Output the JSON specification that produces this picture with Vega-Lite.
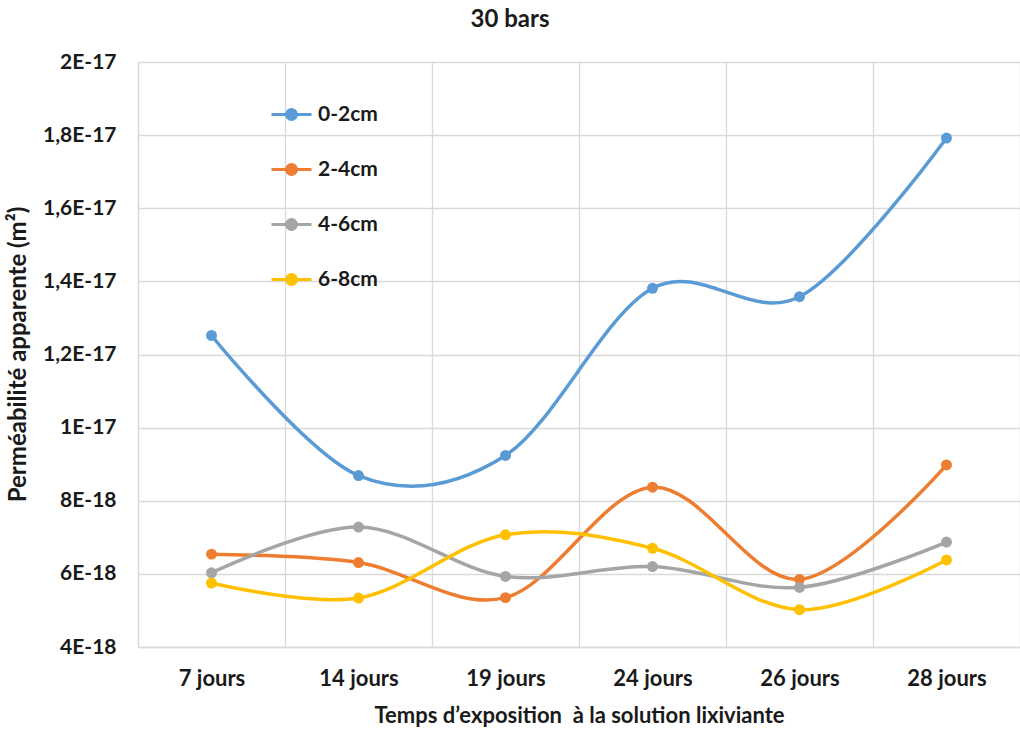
{
  "$schema": "https://vega.github.io/schema/vega-lite/v6.json",
  "autosize": {"type": "none"},
  "padding": {"left": 138, "top": 62, "right": 0, "bottom": 84},
  "width": 882,
  "height": 585,
  "background": "white",
  "title": {
    "text": "30 bars",
    "font": "Lato",
    "fontSize": 24,
    "fontWeight": "bold",
    "color": "#1a1a1a",
    "anchor": "middle",
    "frame": "group",
    "dx": -69,
    "offset": 19
  },
  "config": {
    "view": {"stroke": null},
    "font": "Lato"
  },
  "data": {
    "values": [
      {"temps": "7 jours", "profondeur": "0-2cm", "k": 1.252e-17},
      {"temps": "14 jours", "profondeur": "0-2cm", "k": 8.69e-18},
      {"temps": "19 jours", "profondeur": "0-2cm", "k": 9.24e-18},
      {"temps": "24 jours", "profondeur": "0-2cm", "k": 1.381e-17},
      {"temps": "26 jours", "profondeur": "0-2cm", "k": 1.358e-17},
      {"temps": "28 jours", "profondeur": "0-2cm", "k": 1.792e-17},
      {"temps": "7 jours", "profondeur": "2-4cm", "k": 6.54e-18},
      {"temps": "14 jours", "profondeur": "2-4cm", "k": 6.31e-18},
      {"temps": "19 jours", "profondeur": "2-4cm", "k": 5.35e-18},
      {"temps": "24 jours", "profondeur": "2-4cm", "k": 8.37e-18},
      {"temps": "26 jours", "profondeur": "2-4cm", "k": 5.85e-18},
      {"temps": "28 jours", "profondeur": "2-4cm", "k": 8.98e-18},
      {"temps": "7 jours", "profondeur": "4-6cm", "k": 6.03e-18},
      {"temps": "14 jours", "profondeur": "4-6cm", "k": 7.28e-18},
      {"temps": "19 jours", "profondeur": "4-6cm", "k": 5.93e-18},
      {"temps": "24 jours", "profondeur": "4-6cm", "k": 6.20e-18},
      {"temps": "26 jours", "profondeur": "4-6cm", "k": 5.63e-18},
      {"temps": "28 jours", "profondeur": "4-6cm", "k": 6.87e-18},
      {"temps": "7 jours", "profondeur": "6-8cm", "k": 5.75e-18},
      {"temps": "14 jours", "profondeur": "6-8cm", "k": 5.34e-18},
      {"temps": "19 jours", "profondeur": "6-8cm", "k": 7.07e-18},
      {"temps": "24 jours", "profondeur": "6-8cm", "k": 6.70e-18},
      {"temps": "26 jours", "profondeur": "6-8cm", "k": 5.02e-18},
      {"temps": "28 jours", "profondeur": "6-8cm", "k": 6.38e-18}
    ]
  },
  "encoding": {
    "x": {
      "field": "temps",
      "type": "ordinal",
      "sort": ["7 jours", "14 jours", "19 jours", "24 jours", "26 jours", "28 jours"],
      "scale": {"type": "band", "paddingInner": 0, "paddingOuter": 0},
      "axis": {
        "title": "Temps d’exposition\u00a0 à la solution lixiviante",
        "labelAngle": 0,
        "labelFont": "Lato",
        "labelFontSize": 22,
        "labelFontWeight": "bold",
        "labelColor": "#1a1a1a",
        "labelPadding": 21,
        "ticks": false,
        "tickBand": "extent",
        "grid": true,
        "gridColor": "#d9d9d9",
        "gridWidth": 1.3,
        "domainColor": "#d9d9d9",
        "domainWidth": 1.3,
        "titleFont": "Lato",
        "titleFontSize": 22,
        "titleFontWeight": "bold",
        "titleColor": "#1a1a1a",
        "titlePadding": 16
      }
    },
    "y": {
      "field": "k",
      "type": "quantitative",
      "scale": {"domain": [4e-18, 2e-17], "nice": false, "zero": false},
      "axis": {
        "title": "Perméabilité apparente (m²)",
        "values": [4e-18, 6e-18, 8e-18, 1e-17, 1.2e-17, 1.4e-17, 1.6e-17, 1.8e-17, 2e-17],
        "labelExpr": "replace(replace(format(datum.value, '.2~e'), '.', ','), 'e', 'E')",
        "labelFont": "Lato",
        "labelFontSize": 21,
        "labelFontWeight": "bold",
        "labelColor": "#1a1a1a",
        "labelPadding": 22,
        "ticks": false,
        "grid": true,
        "gridColor": "#d9d9d9",
        "gridWidth": 1.3,
        "domainColor": "#d9d9d9",
        "domainWidth": 1.3,
        "titleFont": "Lato",
        "titleFontSize": 24,
        "titleFontWeight": "bold",
        "titleColor": "#1a1a1a",
        "titleX": -120,
        "titleY": 292,
        "titleAngle": -90,
        "titleAlign": "center",
        "titleBaseline": "middle"
      }
    },
    "color": {
      "field": "profondeur",
      "type": "nominal",
      "scale": {
        "domain": ["0-2cm", "2-4cm", "4-6cm", "6-8cm"],
        "range": ["#5B9BD5", "#ED7D31", "#A5A5A5", "#FFC000"]
      },
      "legend": {
        "title": null,
        "orient": "none",
        "legendX": 132,
        "legendY": 31,
        "padding": 0,
        "symbolType": "M-1,0H1M-0.25,0A0.25,0.25 0 1,0 0.25,0A0.25,0.25 0 1,0 -0.25,0Z",
        "symbolSize": 1600,
        "symbolStrokeWidth": 3,
        "labelFont": "Lato",
        "labelFontSize": 21,
        "labelFontWeight": "bold",
        "labelColor": "#1a1a1a",
        "labelOffset": 5,
        "rowPadding": 22,
        "labelLimit": 300,
        "encode": {
          "symbols": {
            "update": {
              "fill": {"scale": "color", "field": "value"},
              "stroke": {"scale": "color", "field": "value"},
              "opacity": {"value": 1}
            }
          }
        }
      }
    }
  },
  "layer": [
    {
      "mark": {"type": "line", "interpolate": "cardinal", "strokeWidth": 3.5}
    },
    {
      "mark": {"type": "point", "filled": true, "size": 120, "opacity": 1}
    }
  ]
}
